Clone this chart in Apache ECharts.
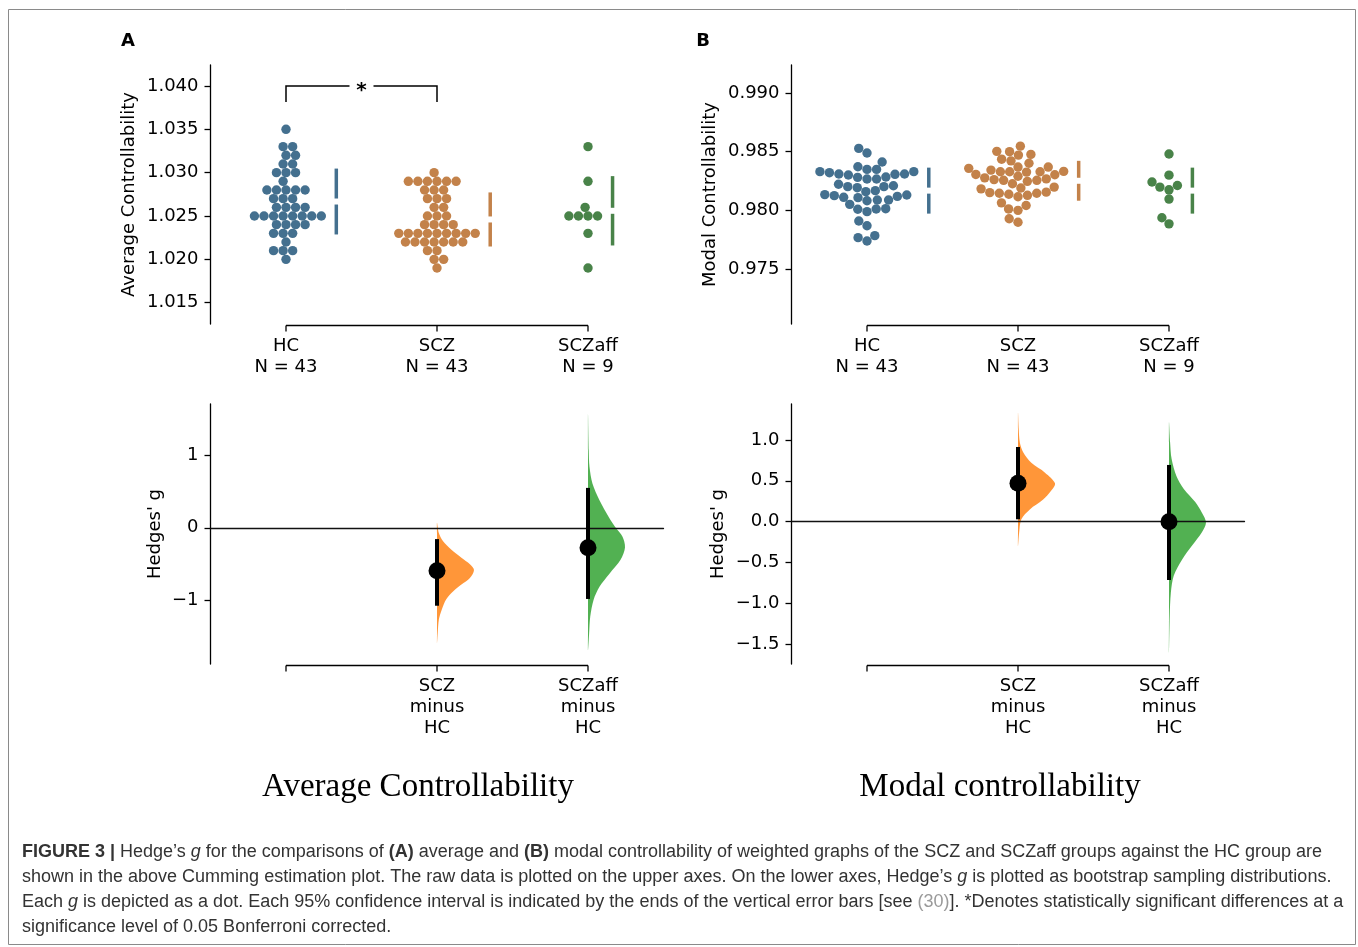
<!DOCTYPE html>
<html><head><meta charset="utf-8">
<script src="https://cdn.jsdelivr.net/npm/echarts@6/dist/echarts.min.js"></script>
<style>html,body{margin:0;padding:0;background:#fff}#c{width:1358px;height:947px}</style>
</head><body><div id="c"></div>
<script>
// ---------------- data ----------------
const GROUPS = ['HC', 'SCZ', 'SCZaff'];
const DIFF_LABELS = ['', 'SCZ\nminus\nHC', 'SCZaff\nminus\nHC'];

const AVG_HC = [1.035,1.033,1.033,1.032,1.032,1.031,1.031,1.030,1.030,1.030,1.029,
  1.028,1.028,1.028,1.028,1.028,1.027,1.027,1.027,1.026,1.026,1.026,1.026,
  1.025,1.025,1.025,1.025,1.025,1.025,1.025,1.025,1.024,1.024,1.024,1.024,
  1.023,1.023,1.023,1.022,1.021,1.021,1.021,1.020];
const AVG_SCZ = [1.030,1.029,1.029,1.029,1.029,1.029,1.029,1.028,1.028,1.028,
  1.027,1.027,1.027,1.026,1.026,1.025,1.025,1.025,1.024,1.024,1.024,1.024,
  1.023,1.023,1.023,1.023,1.023,1.023,1.023,1.023,1.023,
  1.022,1.022,1.022,1.022,1.022,1.022,1.022,1.021,1.021,1.020,1.020,1.019];
const AVG_SCZAFF = [1.033,1.029,1.026,1.025,1.025,1.025,1.025,1.023,1.019];

const MODAL_HC = [0.98528,0.98489,0.98412,0.98349,0.98349,0.98372,0.98330,0.98321,0.98310,
  0.98284,0.98281,0.98267,0.98267,0.98301,0.98307,0.98310,0.98330,0.98222,0.98202,0.98193,
  0.98168,0.98159,0.98202,0.98210,0.98134,0.98125,0.98111,0.98051,0.98088,0.98082,0.98088,
  0.98108,0.98119,0.98131,0.98014,0.97989,0.98009,0.98011,0.97909,0.97869,0.97767,0.97739,0.97784];
const MODAL_SCZ = [0.98547,0.98500,0.98477,0.98471,0.98503,0.98422,0.98436,0.98401,0.98369,
  0.98358,0.98343,0.98332,0.98329,0.98329,0.98306,0.98326,0.98369,0.98329,0.98291,0.98277,
  0.98256,0.98303,0.98268,0.98247,0.98256,0.98262,0.98227,0.98183,0.98198,0.98155,0.98151,
  0.98146,0.98116,0.98128,0.98137,0.98146,0.98190,0.98064,0.98012,0.98000,0.98041,0.97928,0.97898];
const MODAL_SCZAFF = [0.98480,0.98300,0.98242,0.98198,0.98175,0.98212,0.98096,0.97937,0.97885];

const AVG_MEAN = [1.02667, 1.02460, 1.02560];
const AVG_SD = [0.00380, 0.00312, 0.00400];
const MODAL_MEAN = [0.98168, 0.98252, 0.98168];
const MODAL_SD = [0.00196, 0.00170, 0.00196];

const AVG_TICKS = [1.015, 1.020, 1.025, 1.030, 1.035, 1.040];
const MODAL_TICKS = [0.975, 0.980, 0.985, 0.990];
const AVG_G_TICKS = [-1, 0, 1];
const MODAL_G_TICKS = [-1.5, -1.0, -0.5, 0.0, 0.5, 1.0];

// Hedges' g (index 1 = SCZ minus HC, 2 = SCZaff minus HC)
const AVG_G = [-0.590, -0.274];
const AVG_CI_LOW = [-1.070, -0.977];
const AVG_CI_HIGH = [-0.155, 0.548];
const MODAL_G = [0.469, 0.000];
const MODAL_CI_LOW = [0.029, -0.714];
const MODAL_CI_HIGH = [0.914, 0.694];

// bootstrap distributions: g level and relative width
const AVG_SCZ_DIST_G = [0.07,-0.07,-0.18,-0.30,-0.41,-0.50,-0.58,-0.69,-0.78,-0.87,-0.98,-1.12,-1.26,-1.44,-1.58];
const AVG_SCZ_DIST_W = [0,0.05,0.16,0.39,0.66,0.89,1.00,0.89,0.66,0.44,0.25,0.13,0.05,0.02,0];
const AVG_AFF_DIST_G = [1.57,1.06,0.84,0.61,0.38,0.15,0.00,-0.12,-0.27,-0.44,-0.63,-0.81,-0.99,-1.22,-1.45,-1.68];
const AVG_AFF_DIST_W = [0,0.02,0.04,0.12,0.31,0.56,0.75,0.93,1.00,0.88,0.58,0.31,0.15,0.06,0.03,0];
const MODAL_SCZ_DIST_G = [1.34,1.13,0.97,0.85,0.72,0.60,0.47,0.38,0.27,0.15,0.03,-0.14,-0.30];
const MODAL_SCZ_DIST_W = [0,0.02,0.05,0.14,0.36,0.73,1.00,0.90,0.68,0.32,0.09,0.03,0];
const MODAL_AFF_DIST_G = [1.22,0.97,0.77,0.56,0.40,0.24,0.11,-0.01,-0.13,-0.29,-0.46,-0.66,-0.87,-1.15,-1.60];
const MODAL_AFF_DIST_W = [0,0.03,0.07,0.20,0.40,0.71,0.89,1.00,0.89,0.63,0.36,0.13,0.05,0.02,0];

const SIG_PAIRS = [[0, 1, '*']];

// ---------------- layout / style ----------------
const GRIDS = [
  {left: 210.5, top: 65, width: 453, height: 259},
  {left: 791.5, top: 65, width: 453, height: 259},
  {left: 210.5, top: 404, width: 453, height: 260},
  {left: 791.5, top: 404, width: 453, height: 260}
];
const YR = [[1.01254, 1.04242], [0.97031, 0.99239], [-1.87, 1.70], [-1.742, 1.44]];
const X_MIN = -0.5, X_MAX = 2.5;
const PX_PER_X = 453 / (X_MAX - X_MIN);
const SWARM_COLORS = ['#44708f', '#c3824a', '#498349'];
const DIST_COLORS = ['rgba(255,127,14,0.82)', 'rgba(44,160,44,0.82)'];
const FONT = 'DejaVu Sans';
const DOT_R = 4.55;
const VIOLIN_HALF = 0.245;
const BRACKET_Y = 1.040;

function beeswarm(values, pxPerY, r) {
  const items = values.map((v, i) => ({i, y: v * pxPerY, x: 0}));
  const sorted = items.slice().sort((a, b) => a.y - b.y);
  const placed = [];
  const d = 2 * r;
  for (const p of sorted) {
    if (!placed.length) { placed.push(p); continue; }
    const neighbors = [];
    for (let j = placed.length - 1; j >= 0; j--) {
      if (p.y - placed[j].y < d) neighbors.unshift(placed[j]); else break;
    }
    const cands = [{x: 0, o: 0}];
    let leftFirst = true, ord = 1;
    for (const q of neighbors) {
      const dy = p.y - q.y;
      const dx = Math.sqrt(Math.max(d * d - dy * dy, 0)) * 1.05;
      const l = q.x - dx, rr = q.x + dx;
      if (leftFirst) { cands.push({x: l, o: ord++}, {x: rr, o: ord++}); }
      else { cands.push({x: rr, o: ord++}, {x: l, o: ord++}); }
      leftFirst = !leftFirst;
    }
    cands.sort((a, b) => (Math.abs(a.x) - Math.abs(b.x)) || (a.o - b.o));
    for (const c of cands) {
      if (neighbors.every(q => (q.x - c.x) ** 2 + (q.y - p.y) ** 2 >= d * d - 1e-9)) { p.x = c.x; break; }
    }
    placed.push(p);
  }
  return items.map(p => p.x);
}

function axisLabelSeries(gi, labels) {
  const yb = YR[gi][0];
  return {
    type: 'custom', xAxisIndex: gi, yAxisIndex: gi, silent: true, clip: false, z: 5,
    data: labels.map((l, i) => [i, yb]),
    renderItem(params, api) {
      const i = params.dataIndex;
      const p = api.coord([api.value(0), yb]);
      const y0 = p[1] + 1.5;
      const ch = [
        {type: 'line', shape: {x1: p[0], y1: y0, x2: p[0], y2: y0 + 6}, style: {stroke: '#000', lineWidth: 1.3}},
        {type: 'text', style: {text: labels[i], x: p[0], y: y0 + 10, align: 'center', verticalAlign: 'top',
          fontSize: 18, fontFamily: FONT, fill: '#000', lineHeight: 21}}
      ];
      if (i === 0) {
        const q = api.coord([labels.length - 1, yb]);
        ch.push({type: 'line', shape: {x1: p[0], y1: y0, x2: q[0], y2: y0}, style: {stroke: '#000', lineWidth: 1.3}});
      }
      return {type: 'group', children: ch};
    }
  };
}

function topSeries(gi, groupVals, means, sds) {
  const pxY = GRIDS[gi].height / (YR[gi][1] - YR[gi][0]);
  const out = [];
  const barData = [];
  groupVals.forEach((vals, k) => {
    const offs = beeswarm(vals, pxY, DOT_R);
    const maxOff = Math.max(...offs);
    out.push({
      type: 'scatter', xAxisIndex: gi, yAxisIndex: gi, symbolSize: 9.4, silent: true, z: 3,
      itemStyle: {color: SWARM_COLORS[k], opacity: 1}, emphasis: {disabled: true},
      data: vals.map((v, i) => [k + offs[i] / PX_PER_X, v])
    });
    barData.push([k + (maxOff + 15) / PX_PER_X, means[k], sds[k], k]);
  });
  out.push({
    type: 'custom', xAxisIndex: gi, yAxisIndex: gi, silent: true, z: 3, data: barData,
    renderItem(params, api) {
      const x = api.value(0), m = api.value(1), s = api.value(2), k = api.value(3);
      const t = api.coord([x, m + s]), c = api.coord([x, m]), b = api.coord([x, m - s]);
      const st = {stroke: SWARM_COLORS[k], lineWidth: 3.5};
      return {type: 'group', children: [
        {type: 'line', shape: {x1: t[0], y1: t[1], x2: c[0], y2: c[1] - 3}, style: st},
        {type: 'line', shape: {x1: c[0], y1: c[1] + 3, x2: b[0], y2: b[1]}, style: st}
      ]};
    }
  });
  out.push(axisLabelSeries(gi, GROUPS.map((g, k) => g + '\nN = ' + groupVals[k].length)));
  return out;
}

function bottomSeries(gi, g, lo, hi, dists) {
  return [
    {
      type: 'custom', xAxisIndex: gi, yAxisIndex: gi, silent: true, z: 0,
      data: dists.map((d, j) => [j + 1, 0]),
      renderItem(params, api) {
        const j = params.dataIndex;
        const cx = api.value(0);
        const dg = dists[j].g, dw = dists[j].w;
        const pts = [];
        for (let i = 0; i < dg.length; i++) pts.push(api.coord([cx + VIOLIN_HALF * dw[i], dg[i]]));
        for (let i = dg.length - 2; i >= 1; i--) pts.push(api.coord([cx, dg[i]]));
        return {type: 'polygon', shape: {points: pts, smooth: 0.3}, style: {fill: DIST_COLORS[j], stroke: null}};
      }
    },
    {
      type: 'custom', xAxisIndex: gi, yAxisIndex: gi, silent: true, z: 3,
      data: lo.map((v, j) => [j + 1, v, hi[j]]),
      renderItem(params, api) {
        const a = api.coord([api.value(0), api.value(1)]), b = api.coord([api.value(0), api.value(2)]);
        return {type: 'line', shape: {x1: a[0], y1: a[1], x2: b[0], y2: b[1]}, style: {stroke: '#000', lineWidth: 4}};
      }
    },
    {
      type: 'scatter', xAxisIndex: gi, yAxisIndex: gi, symbolSize: 17, silent: true, z: 4,
      itemStyle: {color: '#000', opacity: 1}, emphasis: {disabled: true},
      data: g.map((v, j) => [j + 1, v])
    },
    axisLabelSeries(gi, DIFF_LABELS)
  ];
}

function minusFmt(s) { return s.replace('-', '\u2212'); }
function yAxisCfg(gi, ticks, fmt, name, gap) {
  return {
    gridIndex: gi, type: 'value', min: YR[gi][0], max: YR[gi][1], z: 1,
    axisLine: {show: true, onZero: false, lineStyle: {color: '#000', width: 1.3}},
    axisTick: {show: true, length: 6, customValues: ticks, lineStyle: {color: '#000', width: 1.3}},
    axisLabel: {customValues: ticks, formatter: fmt, margin: 12, fontSize: 18, fontFamily: FONT, color: '#000'},
    splitLine: {show: false},
    name: name, nameLocation: 'middle', nameGap: gap, nameRotate: 90, nameMoveOverlap: false,
    nameTextStyle: {fontSize: 18, fontFamily: FONT, color: '#000'}
  };
}
function xAxisCfg(gi, showZero) {
  return {
    gridIndex: gi, type: 'value', min: X_MIN, max: X_MAX, z: 1,
    axisLine: {show: showZero, onZero: true, lineStyle: {color: '#111', width: 1.3}},
    axisTick: {show: false}, axisLabel: {show: false}, splitLine: {show: false}
  };
}

const series = [].concat(
  topSeries(0, [AVG_HC, AVG_SCZ, AVG_SCZAFF], AVG_MEAN, AVG_SD),
  topSeries(1, [MODAL_HC, MODAL_SCZ, MODAL_SCZAFF], MODAL_MEAN, MODAL_SD),
  bottomSeries(2, AVG_G, AVG_CI_LOW, AVG_CI_HIGH,
    [{g: AVG_SCZ_DIST_G, w: AVG_SCZ_DIST_W}, {g: AVG_AFF_DIST_G, w: AVG_AFF_DIST_W}]),
  bottomSeries(3, MODAL_G, MODAL_CI_LOW, MODAL_CI_HIGH,
    [{g: MODAL_SCZ_DIST_G, w: MODAL_SCZ_DIST_W}, {g: MODAL_AFF_DIST_G, w: MODAL_AFF_DIST_W}])
);

// significance bracket
series.push({
  type: 'custom', xAxisIndex: 0, yAxisIndex: 0, silent: true, clip: false, z: 5,
  data: SIG_PAIRS.map(p => [p[0], p[1]]),
  renderItem(params, api) {
    const a = api.coord([api.value(0), BRACKET_Y]), b = api.coord([api.value(1), BRACKET_Y]);
    const mid = (a[0] + b[0]) / 2, y = a[1];
    const st = {stroke: '#000', lineWidth: 1.5, fill: null};
    return {type: 'group', children: [
      {type: 'polyline', shape: {points: [[a[0], y + 16], [a[0], y], [mid - 12, y]]}, style: st},
      {type: 'polyline', shape: {points: [[mid + 12, y], [b[0], y], [b[0], y + 16]]}, style: st},
      {type: 'text', style: {text: SIG_PAIRS[params.dataIndex][2], x: mid, y: y + 5, align: 'center', verticalAlign: 'middle',
        fontSize: 20, fontWeight: 'bold', fontFamily: FONT, fill: '#000'}}
    ]};
  }
});

const CAP = {fontSize: 18, fontFamily: 'Liberation Sans', fill: '#333'};
const RICH = {
  b: {fontSize: 18, fontFamily: 'Liberation Sans', fontWeight: 'bold', fill: '#333'},
  i: {fontSize: 18, fontFamily: 'Liberation Sans', fontStyle: 'italic', fill: '#333'},
  l: {fontSize: 18, fontFamily: 'Liberation Sans', fill: '#9a9a9a'}
};
const CAPTION = [
  '{b|FIGURE 3 |} Hedge\u2019s {i|g} for the comparisons of {b|(A)} average and {b|(B)} modal controllability of weighted graphs of the SCZ and SCZaff groups against the HC group are',
  'shown in the above Cumming estimation plot. The raw data is plotted on the upper axes. On the lower axes, Hedge\u2019s {i|g} is plotted as bootstrap sampling distributions.',
  'Each {i|g} is depicted as a dot. Each 95% confidence interval is indicated by the ends of the vertical error bars [see {l|(30)}]. *Denotes statistically significant differences at a',
  'significance level of 0.05 Bonferroni corrected.'
];

const graphic = [
  {type: 'rect', silent: true, z: -10, shape: {x: 8.5, y: 9.5, width: 1347, height: 935}, style: {fill: 'none', stroke: '#8a8a8a', lineWidth: 1}},
  {type: 'text', x: 128, y: 41, style: {text: 'A', fontSize: 18, fontWeight: 'bold', fontFamily: FONT, fill: '#000', align: 'center', verticalAlign: 'middle', textAlign: 'center', textVerticalAlign: 'middle'}},
  {type: 'text', x: 703, y: 41, style: {text: 'B', fontSize: 18, fontWeight: 'bold', fontFamily: FONT, fill: '#000', align: 'center', verticalAlign: 'middle', textAlign: 'center', textVerticalAlign: 'middle'}},
  {type: 'text', x: 418, y: 787, style: {text: 'Average Controllability', fontSize: 33, fontFamily: 'Liberation Serif', fill: '#000', align: 'center', verticalAlign: 'middle', textAlign: 'center', textVerticalAlign: 'middle'}},
  {type: 'text', x: 1000, y: 787, style: {text: 'Modal controllability', fontSize: 33, fontFamily: 'Liberation Serif', fill: '#000', align: 'center', verticalAlign: 'middle', textAlign: 'center', textVerticalAlign: 'middle'}}
];
CAPTION.forEach((t, i) => graphic.push({type: 'text', x: 22, y: 852 + i * 25,
  style: Object.assign({text: t, rich: RICH, align: 'left', verticalAlign: 'middle', textAlign: 'left', textVerticalAlign: 'middle'}, CAP)}));

const fmt3 = v => v.toFixed(3);
const chart = echarts.init(document.getElementById('c'), null, {renderer: 'canvas', width: 1358, height: 947});
chart.setOption({
  animation: false,
  backgroundColor: '#fff',
  textStyle: {fontFamily: FONT},
  grid: GRIDS.map(g => Object.assign({outerBoundsMode: 'none', containLabel: false}, g)),
  xAxis: [xAxisCfg(0, false), xAxisCfg(1, false), xAxisCfg(2, true), xAxisCfg(3, true)],
  yAxis: [
    yAxisCfg(0, AVG_TICKS, fmt3, 'Average Controllability', 72),
    yAxisCfg(1, MODAL_TICKS, fmt3, 'Modal Controllability', 72),
    yAxisCfg(2, AVG_G_TICKS, v => minusFmt(String(Math.round(v))), 'Hedges\' g', 46),
    yAxisCfg(3, MODAL_G_TICKS, v => minusFmt(v.toFixed(1)), 'Hedges\' g', 64)
  ],
  series: series,
  graphic: graphic
});
</script></body></html>
